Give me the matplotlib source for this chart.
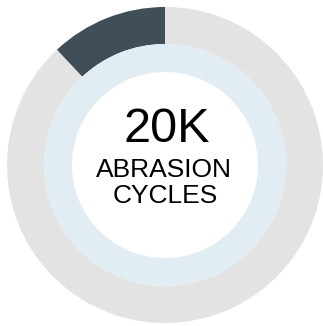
import matplotlib.pyplot as plt

# ring values (percent of full circle)
outer_labels = ["Abrasion", "Remaining"]
outer_values = [12, 88]
inner_values = [100]

headline = "20K"
caption_lines = ["ABRASION", "CYCLES"]

DARK = "#404e57"
GRAY = "#e3e3e3"
LIGHT_BLUE = "#e1edf3"

W, H = 323, 326
fig = plt.figure(figsize=(W / 100, H / 100), dpi=100)
ax = fig.add_axes([0, 0, 1, 1])
ax.set_xlim(0, W)
ax.set_ylim(0, H)
ax.set_aspect("equal")
ax.axis("off")

center = (165, 161)

ax.pie(outer_values, colors=[DARK, GRAY], startangle=90, counterclock=True,
       radius=158, center=center, wedgeprops=dict(width=37, linewidth=0))
ax.pie(inner_values, colors=[LIGHT_BLUE], startangle=90,
       radius=121, center=center, wedgeprops=dict(width=28, linewidth=0))

ax.set_xlim(0, W)
ax.set_ylim(0, H)

ax.text(167, 184, headline, fontsize=35, family="Liberation Sans",
        ha="center", va="baseline", color="black")
ax.text(164, 149, caption_lines[0], fontsize=19, family="Liberation Sans",
        ha="center", va="baseline", color="black")
ax.text(165, 123, caption_lines[1], fontsize=19, family="Liberation Sans",
        ha="center", va="baseline", color="black")

fig.savefig("out.png", dpi=100)
